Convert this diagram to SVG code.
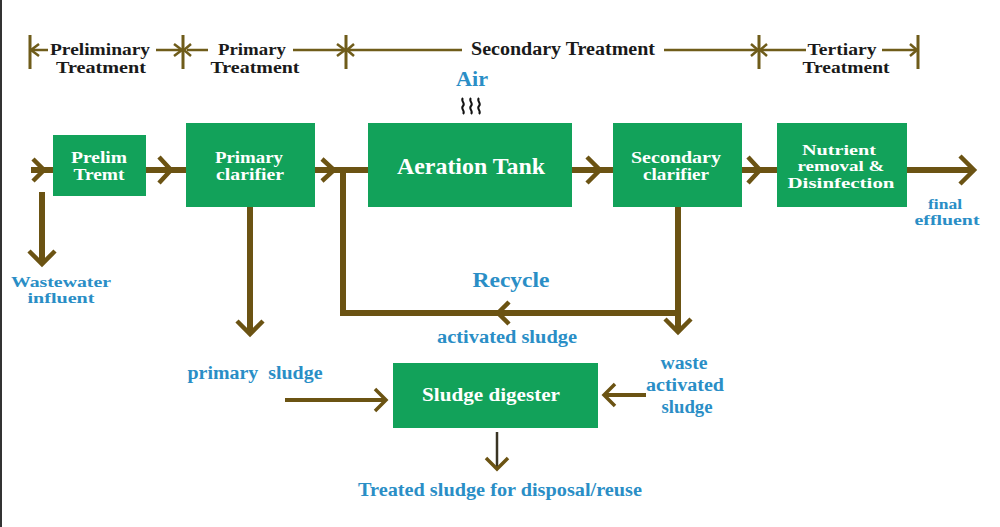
<svg xmlns="http://www.w3.org/2000/svg" width="1000" height="527" viewBox="0 0 1000 527">
<style>
.bg{fill:#ffffff}
.box{fill:#12a25a}
.bt{font-family:"Liberation Serif","DejaVu Serif",serif;font-weight:bold;fill:#ffffff;text-anchor:middle;font-size:16px}
.hd{font-family:"Liberation Serif","DejaVu Serif",serif;font-weight:bold;fill:#1a1a1a;text-anchor:middle;font-size:16.5px}
.lb{font-family:"Liberation Serif","DejaVu Serif",serif;font-weight:bold;fill:#2a8ec6;text-anchor:middle;font-size:18px}
.lb2{font-size:15.5px}
.flow{stroke:#6b5313;stroke-width:6;fill:none;stroke-linejoin:miter}
.chev{stroke:#6b5313;stroke-width:4.5;fill:none;stroke-linecap:butt;stroke-linejoin:miter}
.thin{stroke:#6f5c1a;stroke-width:2.5;fill:none}
.tick{stroke:#6f5c1a;stroke-width:3;fill:none}
</style>
<rect class="bg" x="0" y="0" width="1000" height="527"/>
<rect x="0" y="0" width="2" height="527" fill="#333333"/>

<g id="phase-brackets">
  <path class="tick" d="M30 35V69M183 35V69M346 35V69M759 35V69M918 35V69"/>
  <path class="thin" d="M31 50H48M156 50H182M187 50H208M293 50H345M349 50H462M664 50H757M761 50H806M882 50H917"/>
  <path class="thin" d="M39 44L31 50L39 56M174 44L182 50L174 56M191 44L184 50L191 56M337 44L345 50L337 56M354 44L347 50L354 56M751 44L758 50L751 56M767 44L760 50L767 56M910 44L917 50L910 56"/>
  <text class="hd" x="100" y="55" textLength="100" lengthAdjust="spacingAndGlyphs">Preliminary</text>
  <text class="hd" x="101" y="73" textLength="90" lengthAdjust="spacingAndGlyphs">Treatment</text>
  <text class="hd" x="252" y="55" textLength="68" lengthAdjust="spacingAndGlyphs">Primary</text>
  <text class="hd" x="255" y="73" textLength="89" lengthAdjust="spacingAndGlyphs">Treatment</text>
  <text class="hd" x="563" y="55" style="font-size:18px" textLength="184" lengthAdjust="spacingAndGlyphs">Secondary Treatment</text>
  <text class="hd" x="842" y="55" textLength="69" lengthAdjust="spacingAndGlyphs">Tertiary</text>
  <text class="hd" x="846" y="73" textLength="87" lengthAdjust="spacingAndGlyphs">Treatment</text>
</g>

<g id="connectors">
  <path class="flow" d="M31 170H53"/>
  <path class="chev" d="M33 159L44 170L33 181"/>
  <path class="flow" d="M42 192V264"/>
  <path class="chev" d="M29 251L42 264L55 251"/>
  <path class="flow" d="M146 170H186"/>
  <path class="chev" d="M159 157L171 170L159 183"/>
  <path class="flow" d="M315 170H368"/>
  <path class="chev" d="M322 159L334 170L322 181"/>
  <path class="flow" d="M250 207V334"/>
  <path class="chev" d="M237 321L250 334L263 321"/>
  <path class="flow" d="M343 170V313H678"/>
  <path class="chev" d="M509 302L498 313L509 324"/>
  <path class="flow" d="M678 207V332"/>
  <path class="chev" d="M665 319L678 332L691 319"/>
  <path class="flow" d="M572 170H613"/>
  <path class="chev" d="M587 157L600 170L587 183"/>
  <path class="flow" d="M742 170H777"/>
  <path class="chev" d="M748 157L760 170L748 183"/>
  <path class="flow" d="M907 170H974"/>
  <path class="chev" d="M960 156L974 170L960 184"/>
  <path class="flow" d="M285 400H386" style="stroke-width:4"/>
  <path class="chev" d="M375 389L386 400L375 411" style="stroke-width:3.5"/>
  <path class="flow" d="M604 395H646" style="stroke-width:4"/>
  <path class="chev" d="M615 384L604 395L615 406" style="stroke-width:3.5"/>
  <path d="M497 432V469" stroke="#3a3424" stroke-width="2.5" fill="none"/>
  <path class="chev" d="M486 458L497 469L508 458" style="stroke-width:3.5"/>
</g>

<g id="air">
  <text class="lb" x="472" y="86" style="font-size:22px" textLength="32" lengthAdjust="spacingAndGlyphs">Air</text>
  <path d="M463 98c-3 3 3 5 0 8s3 5 0 8M471 98c-3 3 3 5 0 8s3 5 0 8M479 98c-3 3 3 5 0 8s3 5 0 8" stroke="#111111" stroke-width="2" fill="none"/>
</g>

<g id="prelim">
  <rect class="box" x="53" y="135" width="93" height="61"/>
  <text class="bt" x="99" y="163" textLength="56" lengthAdjust="spacingAndGlyphs">Prelim</text>
  <text class="bt" x="99" y="180" textLength="51" lengthAdjust="spacingAndGlyphs">Tremt</text>
</g>
<g id="primary-clarifier">
  <rect class="box" x="186" y="123" width="129" height="84"/>
  <text class="bt" x="249" y="163" textLength="68" lengthAdjust="spacingAndGlyphs">Primary</text>
  <text class="bt" x="250" y="180" textLength="68" lengthAdjust="spacingAndGlyphs">clarifier</text>
</g>
<g id="aeration-tank">
  <rect class="box" x="368" y="123" width="204" height="84"/>
  <text class="bt" x="471" y="174" style="font-size:23px" textLength="148" lengthAdjust="spacingAndGlyphs">Aeration Tank</text>
</g>
<g id="secondary-clarifier">
  <rect class="box" x="613" y="123" width="129" height="84"/>
  <text class="bt" x="676" y="163" textLength="90" lengthAdjust="spacingAndGlyphs">Secondary</text>
  <text class="bt" x="676" y="180" textLength="66" lengthAdjust="spacingAndGlyphs">clarifier</text>
</g>
<g id="nutrient-removal">
  <rect class="box" x="777" y="123" width="130" height="84"/>
  <text class="bt" x="839" y="155" style="font-size:15px" textLength="74" lengthAdjust="spacingAndGlyphs">Nutrient</text>
  <text class="bt" x="841" y="171" style="font-size:15px" textLength="87" lengthAdjust="spacingAndGlyphs">removal &amp;</text>
  <text class="bt" x="841" y="188" style="font-size:15px" textLength="107" lengthAdjust="spacingAndGlyphs">Disinfection</text>
</g>
<g id="sludge-digester">
  <rect class="box" x="393" y="363" width="205" height="65"/>
  <text class="bt" x="491" y="401" style="font-size:19px" textLength="138" lengthAdjust="spacingAndGlyphs">Sludge digester</text>
</g>

<g id="labels">
  <text class="lb lb2" x="61" y="287" textLength="100" lengthAdjust="spacingAndGlyphs">Wastewater</text>
  <text class="lb lb2" x="61" y="303" textLength="67" lengthAdjust="spacingAndGlyphs">influent</text>
  <text class="lb lb2" x="945" y="209" textLength="34" lengthAdjust="spacingAndGlyphs">final</text>
  <text class="lb lb2" x="947" y="225" textLength="65" lengthAdjust="spacingAndGlyphs">effluent</text>
  <text class="lb" x="511" y="287" style="font-size:22px" textLength="77" lengthAdjust="spacingAndGlyphs">Recycle</text>
  <text class="lb" x="507" y="343" textLength="140" lengthAdjust="spacingAndGlyphs">activated sludge</text>
  <text class="lb" x="255" y="379" xml:space="preserve" textLength="135" lengthAdjust="spacingAndGlyphs">primary  sludge</text>
  <text class="lb" x="684" y="369" textLength="47" lengthAdjust="spacingAndGlyphs">waste</text>
  <text class="lb" x="685" y="391" textLength="78" lengthAdjust="spacingAndGlyphs">activated</text>
  <text class="lb" x="687" y="413" textLength="51" lengthAdjust="spacingAndGlyphs">sludge</text>
  <text class="lb" x="500" y="496" style="font-size:19px" textLength="284" lengthAdjust="spacingAndGlyphs">Treated sludge for disposal/reuse</text>
</g>
</svg>
